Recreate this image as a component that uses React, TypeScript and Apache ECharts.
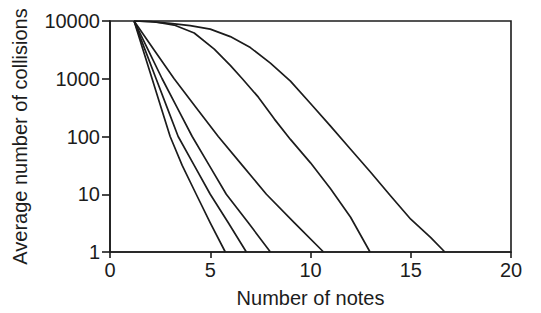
import React, { useEffect, useRef } from "react";
import * as echarts from "echarts";

const xTicks = [0, 5, 10, 15, 20];
const yTicks = [1, 10, 100, 1000, 10000];

// [number of notes, average number of collisions]
const curve1: [number, number][] = [
  [1.2, 10000], [1.65, 3160], [2.1, 1000], [2.55, 316], [3.0, 100], [3.6, 31.6], [4.3, 10], [5.0, 3.2], [5.75, 1],
];
const curve2: [number, number][] = [
  [1.2, 10000], [1.75, 3160], [2.3, 1000], [2.85, 316], [3.4, 100], [4.2, 31.6], [5.0, 10], [5.9, 3.2], [6.8, 1],
];
const curve3: [number, number][] = [
  [1.2, 10000], [1.9, 3160], [2.6, 1000], [3.35, 316], [4.1, 100], [4.95, 31.6], [5.8, 10], [6.9, 3.2], [8.0, 1],
];
const curve4: [number, number][] = [
  [1.2, 10000], [2.2, 3160], [3.2, 1000], [4.3, 316], [5.4, 100], [6.6, 31.6], [7.8, 10], [9.2, 3.2], [10.65, 1],
];
const curve5: [number, number][] = [
  [1.2, 10000], [2.2, 9700], [3.2, 8500], [4.2, 6200], [5.2, 3250], [6.0, 1700], [6.6, 1000],
  [7.4, 480], [8.2, 200], [9, 89], [10, 35], [11, 12.5], [12, 4.0], [12.97, 1],
];
const curve6: [number, number][] = [
  [1.2, 10000], [2, 9770], [3, 9120], [4, 8320], [5, 7240], [6, 5370], [7, 3470], [8, 1860],
  [9, 912], [10, 372], [11, 151], [12, 60], [13, 24], [14, 9.3], [15, 3.7], [16, 1.78], [16.7, 1],
];
const curves = [curve1, curve2, curve3, curve4, curve5, curve6];

const FONT = "'Liberation Sans', Arial, Helvetica, sans-serif";
const INK = "#1c1c1c";

export default function App() {
  const ref = useRef<HTMLDivElement>(null);
  useEffect(() => {
    if (!ref.current) return;
    const chart = echarts.init(ref.current, undefined, { renderer: "svg" });
    chart.setOption({
      animation: false,
      backgroundColor: "#ffffff",
      grid: {
        left: 110,
        right: 30,
        top: 21,
        bottom: 53,
        show: true,
        borderColor: INK,
        borderWidth: 1.6,
      },
      xAxis: {
        type: "value",
        min: xTicks[0],
        max: xTicks[xTicks.length - 1],
        interval: 5,
        name: "Number of notes",
        nameLocation: "middle",
        nameGap: 36,
        nameTextStyle: { fontFamily: FONT, fontSize: 20, color: INK },
        axisLine: { show: true, lineStyle: { color: INK, width: 1.6 } },
        axisTick: { show: true, length: 6, lineStyle: { color: INK, width: 1.6 } },
        axisLabel: { fontFamily: FONT, fontSize: 20, color: INK, margin: 8 },
        splitLine: { show: false },
      },
      yAxis: {
        type: "log",
        logBase: 10,
        min: yTicks[0],
        max: yTicks[yTicks.length - 1],
        name: "Average number of collisions",
        nameLocation: "middle",
        nameGap: 80,
        nameTextStyle: { fontFamily: FONT, fontSize: 20, color: INK },
        axisLine: { show: true, lineStyle: { color: INK, width: 1.6 } },
        axisTick: { show: true, length: 8, lineStyle: { color: INK, width: 1.6 } },
        axisLabel: {
          fontFamily: FONT,
          fontSize: 20,
          color: INK,
          margin: 10,
          formatter: (v: number) => String(Math.round(v)),
        },
        splitLine: { show: false },
      },
      series: curves.map((c) => ({
        type: "line",
        data: c,
        showSymbol: false,
        smooth: false,
        lineStyle: { color: INK, width: 1.7, join: "round" },
        silent: true,
      })),
    });
    return () => chart.dispose();
  }, []);
  return (
    <div
      ref={ref}
      style={{ position: "fixed", left: 0, top: 0, width: 541, height: 313, background: "#fff" }}
    />
  );
}
